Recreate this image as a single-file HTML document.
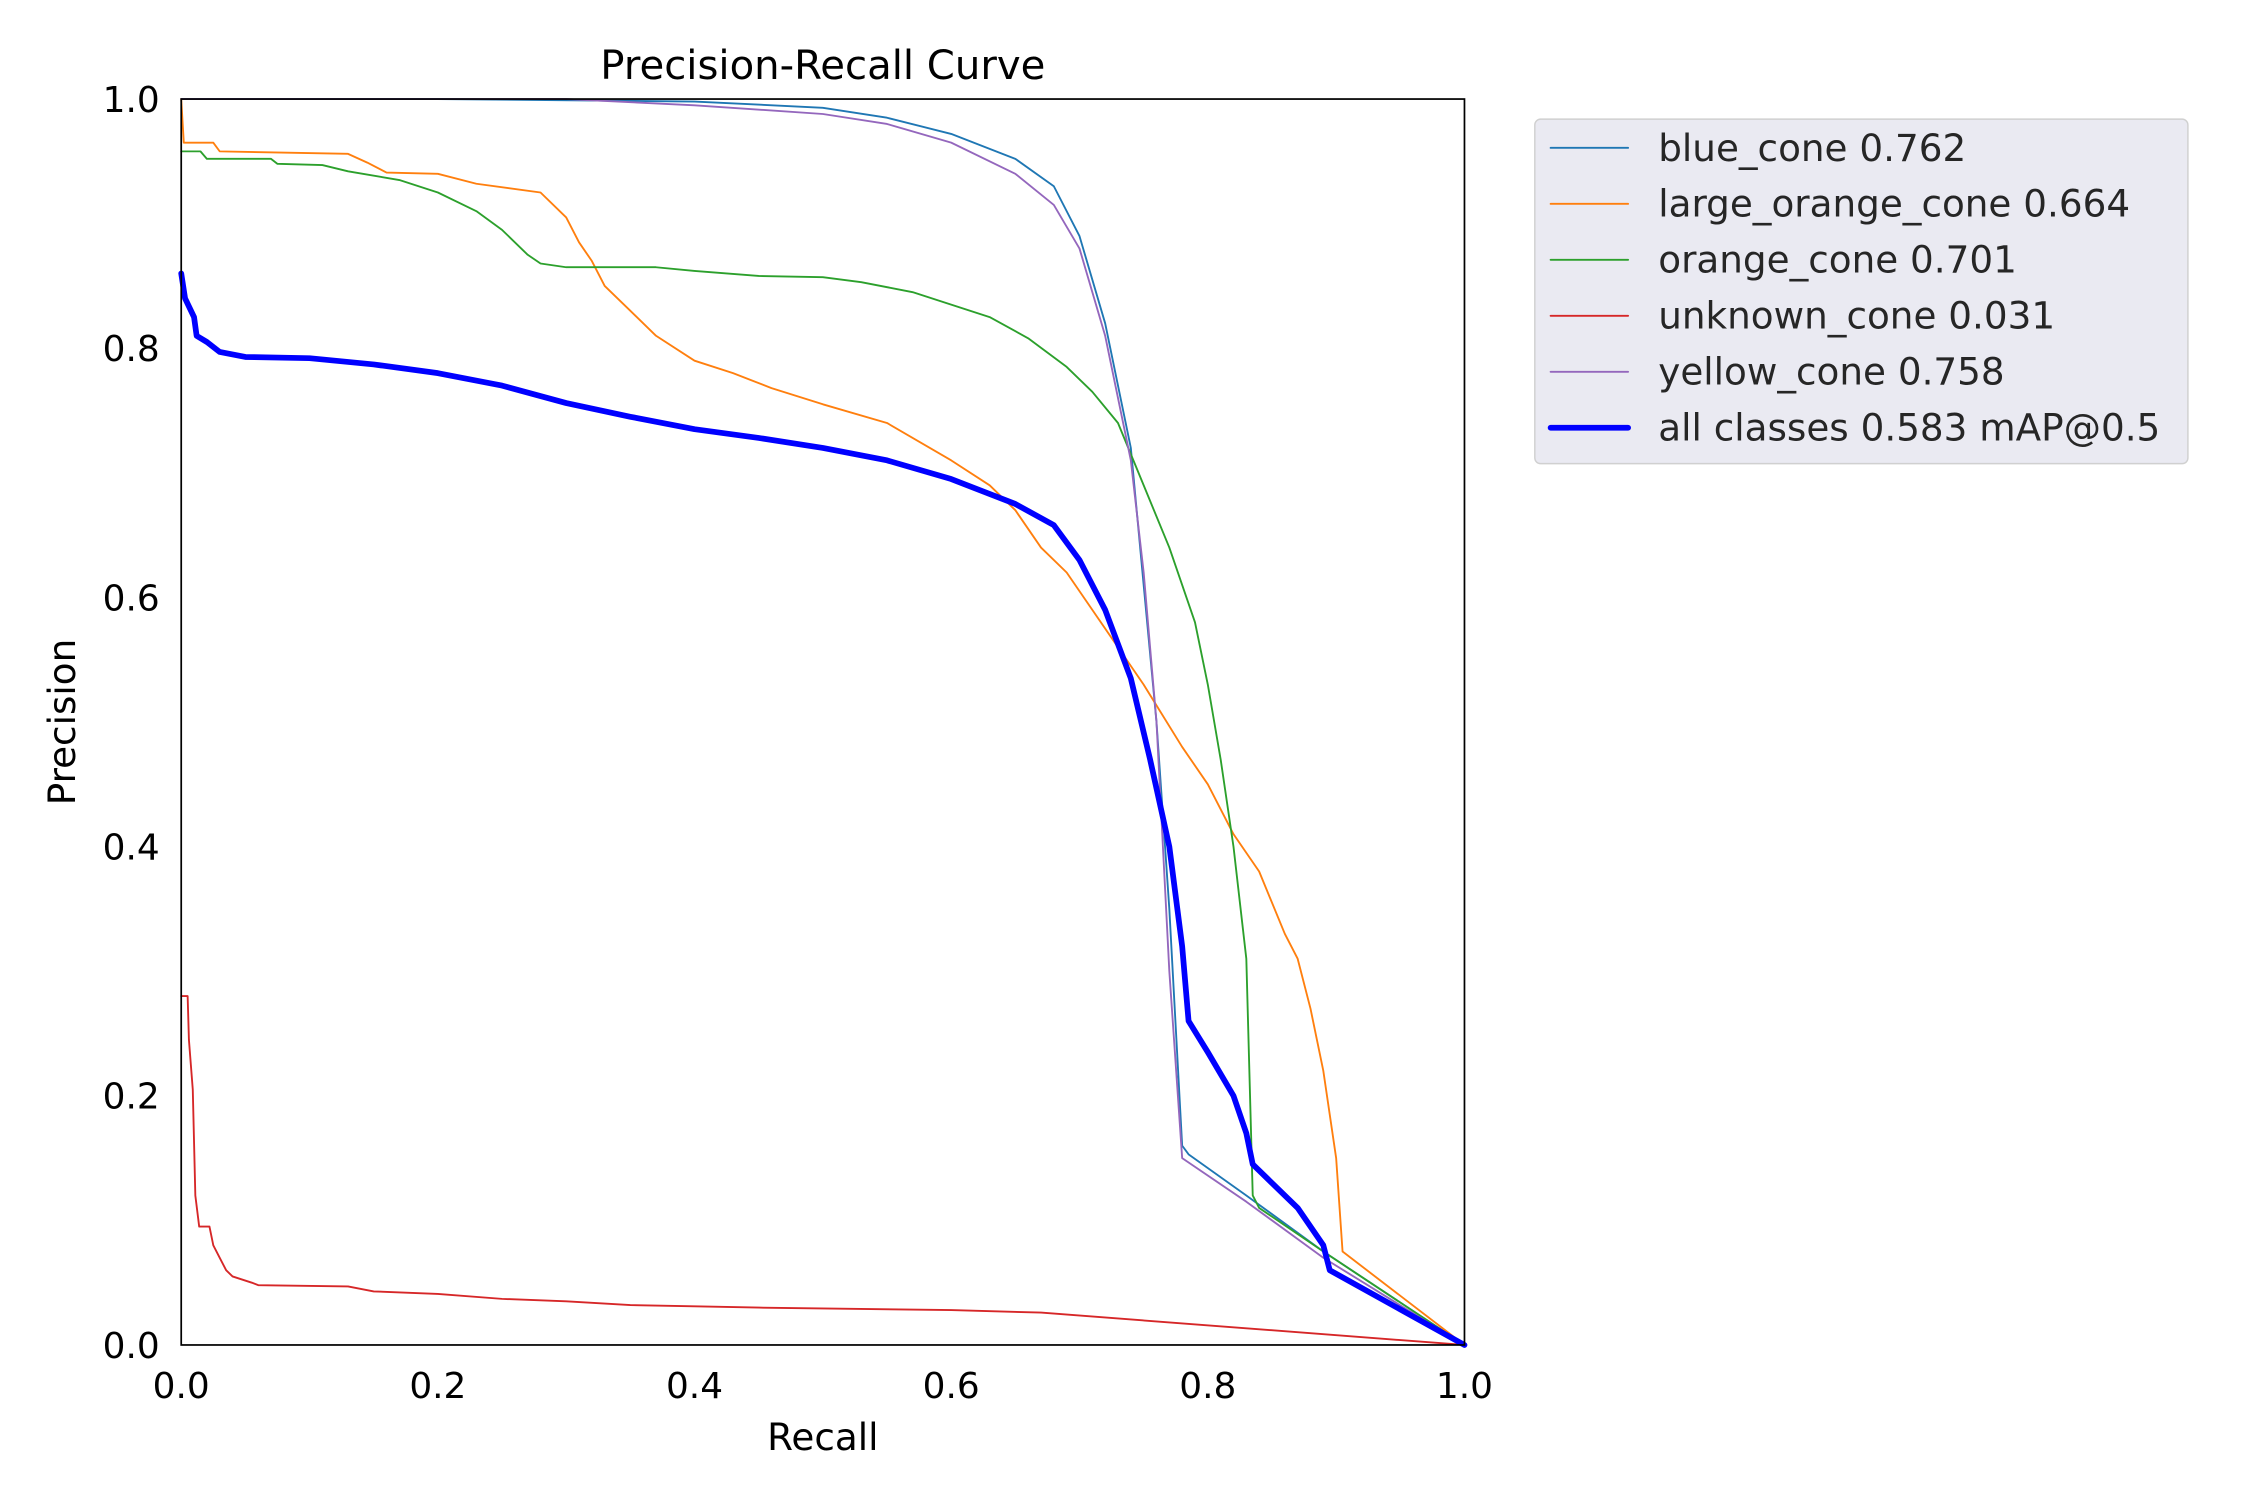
<!DOCTYPE html>
<html><head><meta charset="utf-8"><style>
html,body{margin:0;padding:0;background:#fff;}
svg{display:block;font-family:"DejaVu Sans","Liberation Sans",sans-serif;}
</style></head><body>
<svg id="chart" width="2250" height="1500" viewBox="0 0 1567 1045" xmlns="http://www.w3.org/2000/svg">
<rect width="1567" height="1045" fill="#fff"/>
<text x="573" y="55" font-size="28" text-anchor="middle" fill="#000">Precision-Recall Curve</text>
<g id="plot"></g>
<rect x="126" y="69" width="894" height="868" fill="none" stroke="#000" stroke-width="1.2"/>
<text x="573" y="1010" font-size="26" text-anchor="middle">Recall</text>
<text transform="translate(52,503) rotate(-90)" font-size="26" text-anchor="middle">Precision</text>
<g id="legend">
<rect x="1069" y="83" width="455" height="240" rx="4" fill="#eaeaf2" stroke="#d0d0d0" stroke-width="1"/>
</g>
</svg>
<script>
const recallBlue=[0,0.2,0.4,0.5,0.55,0.6,0.65,0.68,0.70,0.72,0.74,0.76,0.77,0.78,0.785,0.83,0.89,1.0];
const precBlue=[1,1,0.998,0.993,0.985,0.972,0.952,0.93,0.89,0.82,0.72,0.5,0.35,0.16,0.153,0.12,0.075,0];
const recallLarge=[0,0.002,0.025,0.03,0.13,0.145,0.16,0.2,0.23,0.28,0.3,0.31,0.32,0.33,0.35,0.37,0.4,0.43,0.46,0.5,0.55,0.6,0.63,0.65,0.67,0.69,0.71,0.73,0.75,0.78,0.80,0.82,0.84,0.86,0.87,0.88,0.89,0.9,0.905,1];
const precLarge=[1,0.965,0.965,0.958,0.956,0.949,0.941,0.94,0.932,0.925,0.905,0.885,0.87,0.85,0.83,0.81,0.79,0.78,0.768,0.755,0.74,0.71,0.69,0.67,0.64,0.62,0.59,0.56,0.53,0.48,0.45,0.41,0.38,0.33,0.31,0.27,0.22,0.15,0.075,0];
const recallOrange=[0,0.015,0.02,0.07,0.075,0.11,0.13,0.17,0.2,0.23,0.25,0.27,0.28,0.3,0.37,0.4,0.45,0.5,0.53,0.57,0.6,0.63,0.66,0.69,0.71,0.73,0.75,0.77,0.79,0.80,0.81,0.82,0.83,0.835,0.84,0.89,1];
const precOrange=[0.958,0.958,0.952,0.952,0.948,0.947,0.942,0.935,0.925,0.91,0.895,0.875,0.868,0.865,0.865,0.862,0.858,0.857,0.853,0.845,0.835,0.825,0.808,0.785,0.765,0.74,0.69,0.64,0.58,0.53,0.47,0.40,0.31,0.12,0.11,0.075,0];
const recallUnknown=[0,0.005,0.006,0.009,0.011,0.014,0.022,0.025,0.03,0.035,0.04,0.055,0.06,0.13,0.15,0.2,0.25,0.3,0.35,0.4,0.45,0.6,0.67,1];
const precUnknown=[0.28,0.28,0.245,0.205,0.12,0.095,0.095,0.08,0.07,0.06,0.055,0.05,0.048,0.047,0.043,0.041,0.037,0.035,0.032,0.031,0.03,0.028,0.026,0];
const recallYellow=[0,0.3,0.4,0.5,0.55,0.6,0.65,0.68,0.70,0.72,0.74,0.75,0.76,0.77,0.78,0.83,0.89,1];
const precYellow=[1,1,0.995,0.988,0.98,0.965,0.94,0.915,0.88,0.81,0.71,0.62,0.5,0.3,0.15,0.115,0.07,0];
const recallAll=[0,0.003,0.01,0.012,0.02,0.03,0.05,0.1,0.15,0.2,0.25,0.3,0.35,0.4,0.45,0.5,0.55,0.6,0.65,0.68,0.7,0.72,0.74,0.755,0.77,0.78,0.785,0.8,0.82,0.83,0.835,0.85,0.87,0.89,0.895,1];
const precAll=[0.86,0.84,0.825,0.81,0.805,0.797,0.793,0.792,0.787,0.78,0.77,0.756,0.745,0.735,0.728,0.72,0.71,0.695,0.675,0.658,0.63,0.59,0.535,0.47,0.4,0.32,0.26,0.235,0.2,0.17,0.145,0.13,0.11,0.08,0.06,0];
const tickValues=[0,0.2,0.4,0.6,0.8,1.0];
const tickLabels=["0.0","0.2","0.4","0.6","0.8","1.0"];
const seriesNames=["blue_cone 0.762","large_orange_cone 0.664","orange_cone 0.701","unknown_cone 0.031","yellow_cone 0.758","all classes 0.583 mAP@0.5"];

const NS="http://www.w3.org/2000/svg";
const X0=126,X1=1020,Y0=937,Y1=69;
function sx(v){return X0+v*(X1-X0);}
function sy(v){return Y0-v*(Y0-Y1);}
const plot=document.getElementById('plot');
const svg=document.getElementById('chart');
const series=[
 {r:recallBlue,p:precBlue,c:"#1f77b4",w:1.3,n:"series-blue-cone"},
 {r:recallLarge,p:precLarge,c:"#ff7f0e",w:1.3,n:"series-large-orange-cone"},
 {r:recallOrange,p:precOrange,c:"#2ca02c",w:1.3,n:"series-orange-cone"},
 {r:recallUnknown,p:precUnknown,c:"#d62728",w:1.3,n:"series-unknown-cone"},
 {r:recallYellow,p:precYellow,c:"#9467bd",w:1.3,n:"series-yellow-cone"},
 {r:recallAll,p:precAll,c:"#0000ff",w:4,n:"series-all-classes"}
];
series.forEach(s=>{
 const pl=document.createElementNS(NS,'polyline');
 
 
 pl.setAttribute('points',s.r.map((r,i)=>sx(r).toFixed(2)+","+sy(s.p[i]).toFixed(2)).join(" "));
 pl.setAttribute('fill','none');pl.setAttribute('stroke',s.c);pl.setAttribute('stroke-width',s.w);
 pl.setAttribute('stroke-linejoin','round');pl.setAttribute('stroke-linecap','round');
 plot.appendChild(pl);
});
tickValues.forEach((v,i)=>{
 const tx=document.createElementNS(NS,'text');
 
 
 tx.setAttribute('x',sx(v));tx.setAttribute('y',974);tx.setAttribute('font-size',25);tx.setAttribute('text-anchor','middle');
 tx.textContent=tickLabels[i];svg.appendChild(tx);
 const ty=document.createElementNS(NS,'text');
 
 
 ty.setAttribute('x',111);ty.setAttribute('y',sy(v)+9);ty.setAttribute('font-size',25);ty.setAttribute('text-anchor','end');
 ty.textContent=tickLabels[i];svg.appendChild(ty);
});
const leg=document.getElementById('legend');
series.forEach((s,i)=>{
 const y=103+i*39;
 const ln=document.createElementNS(NS,'line');
 
 
 ln.setAttribute('x1',1080);ln.setAttribute('x2',1134);ln.setAttribute('y1',y);ln.setAttribute('y2',y);
 ln.setAttribute('stroke',s.c);ln.setAttribute('stroke-width',s.w);ln.setAttribute('stroke-linecap','round');
 leg.appendChild(ln);
 const t=document.createElementNS(NS,'text');
 
 
 t.setAttribute('x',1155);t.setAttribute('y',y+9);t.setAttribute('font-size',26);t.setAttribute('fill','#262626');
 t.textContent=seriesNames[i];leg.appendChild(t);
});
</script>
</body></html>
